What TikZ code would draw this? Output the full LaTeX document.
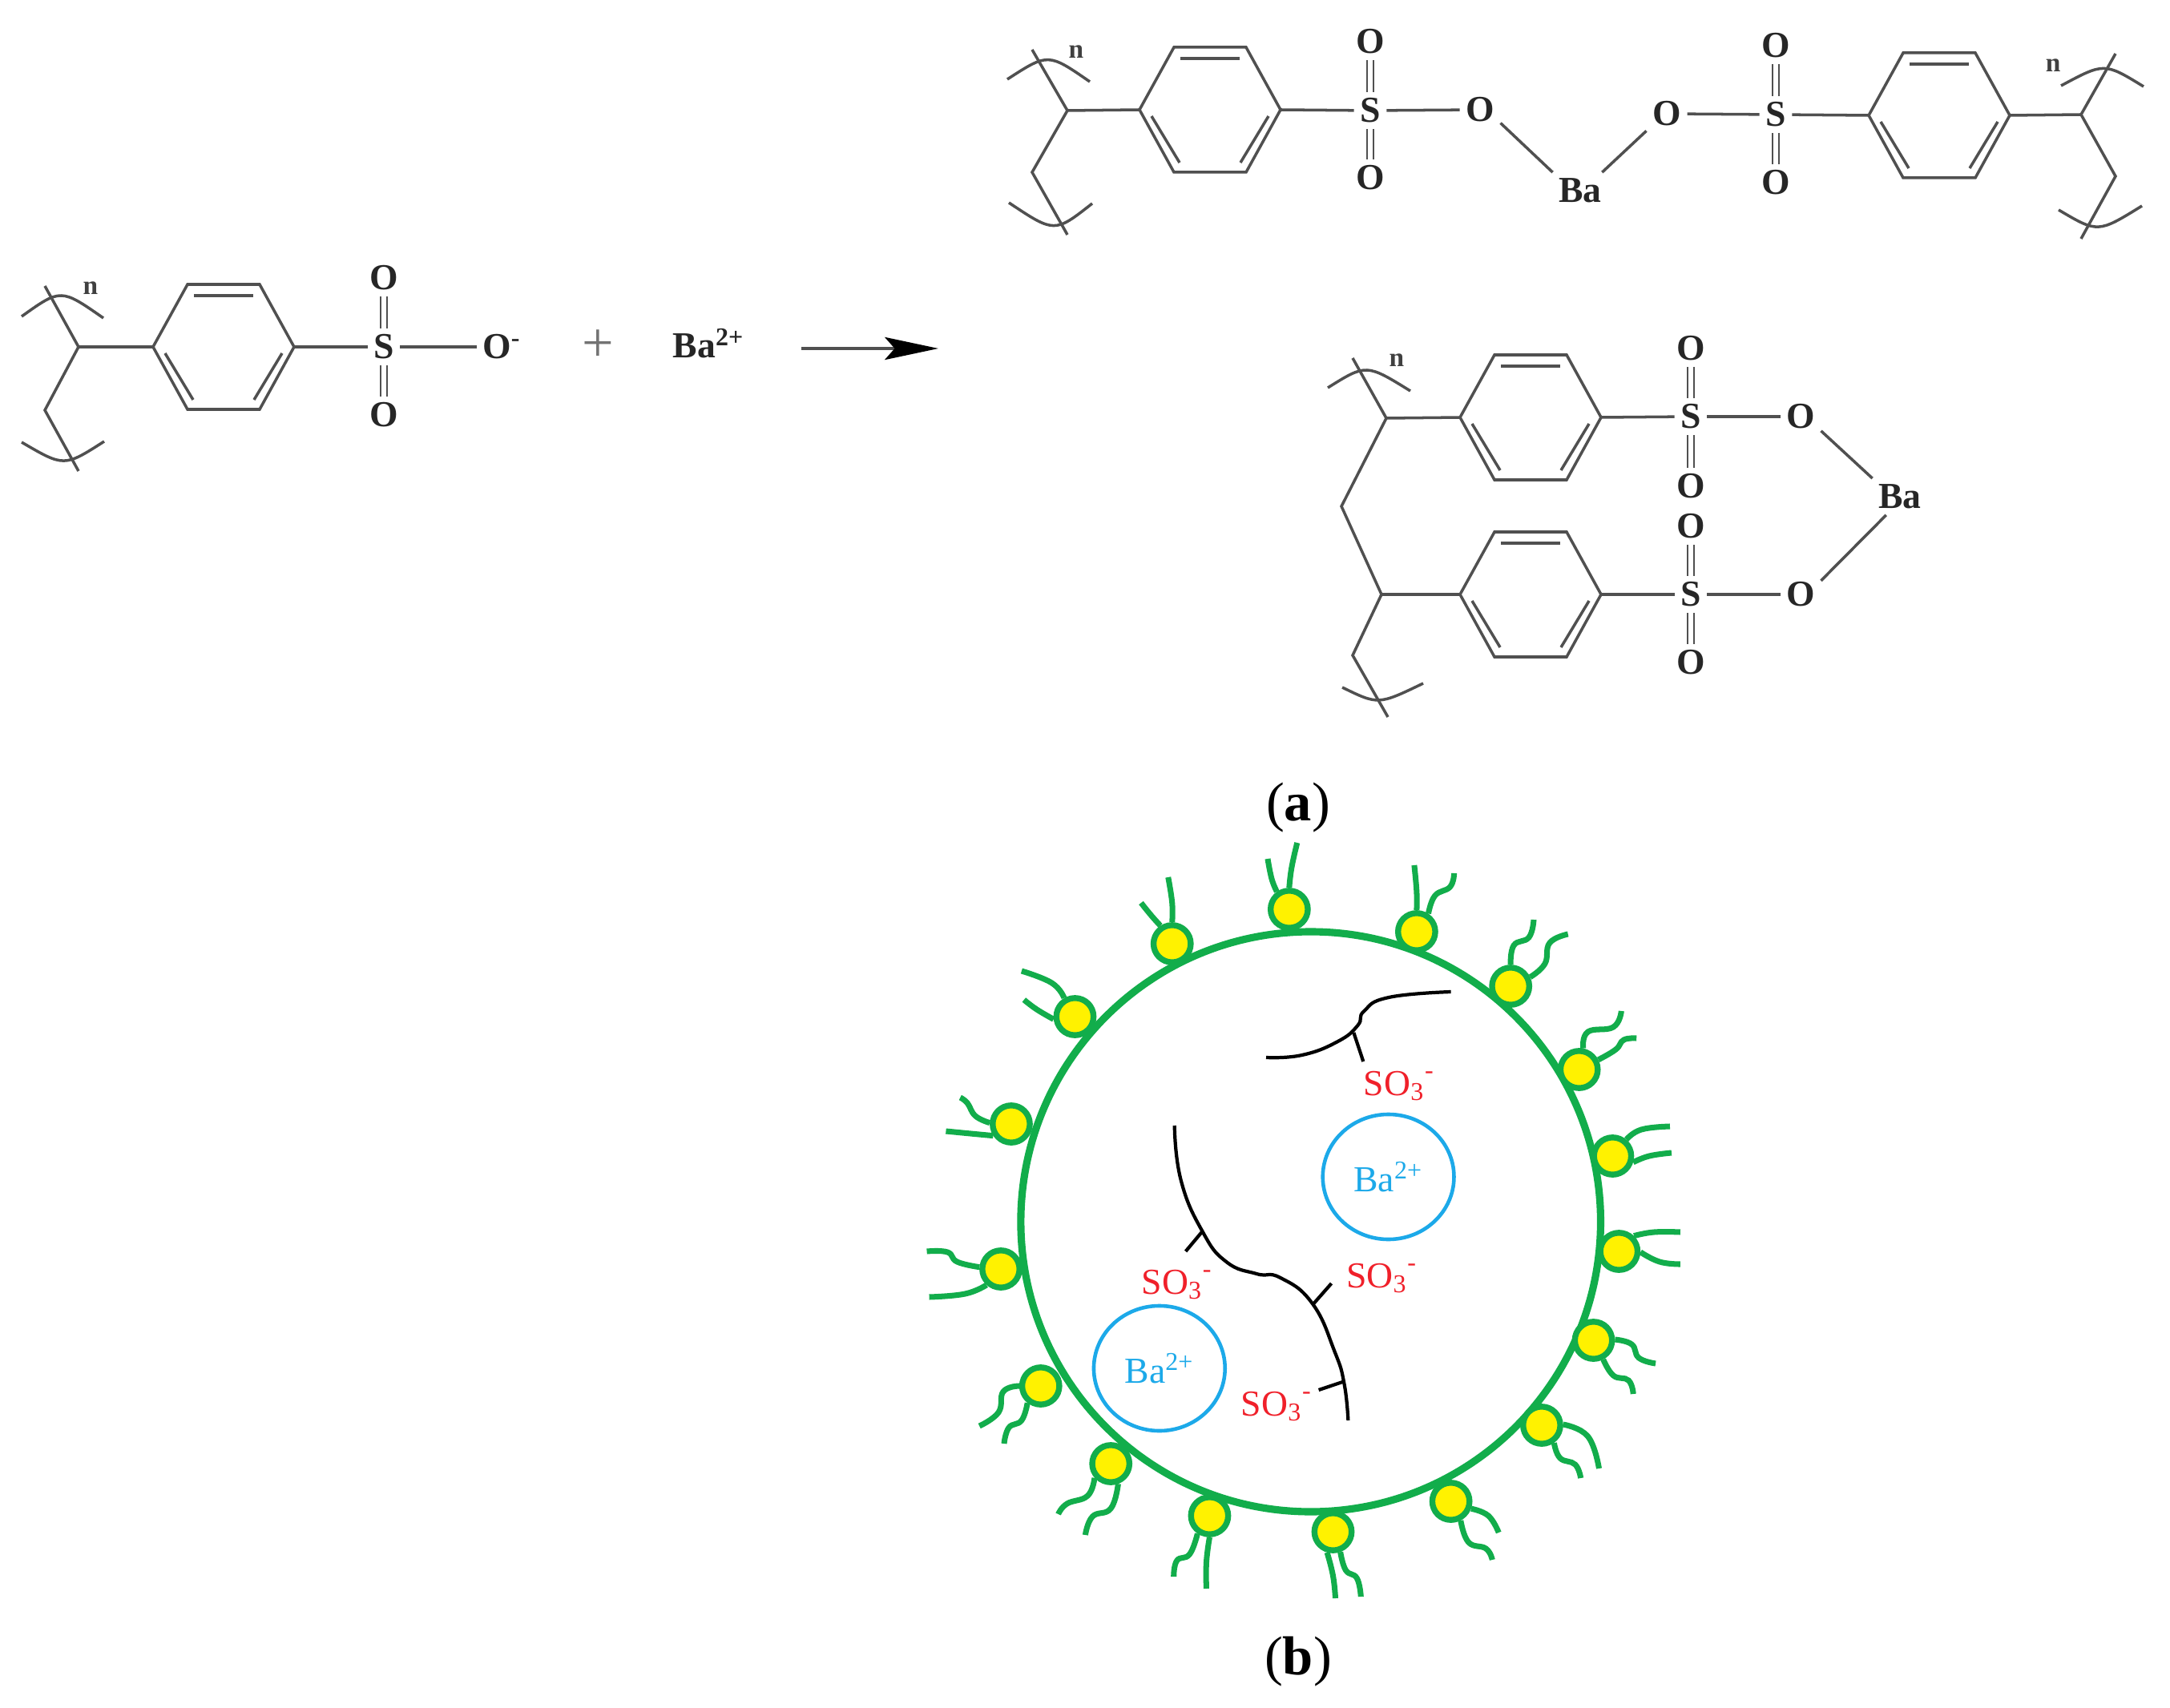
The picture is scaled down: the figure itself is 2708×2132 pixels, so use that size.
\documentclass[tikz,border=0pt]{standalone}
\usepackage{fontspec}
\setmainfont{Liberation Serif}
\usetikzlibrary{arrows.meta,shapes.geometric}
\definecolor{bondgray}{HTML}{505050}
\definecolor{shellgreen}{HTML}{12AD4B}
\definecolor{ionblue}{HTML}{1CA9E9}
\definecolor{sulfored}{HTML}{F0202A}
\tikzset{
  bond/.style={draw=bondgray, line width=1pt},
  dbl/.style={draw=bondgray, line width=.75pt, double=white, double distance=1.5pt},
  atom/.style={inner sep=2pt, text=black!85, font=\fontsize{13}{14}\selectfont\bfseries},
  unitn/.style={inner sep=0pt, text=black!75, font=\fontsize{9.5}{10}\selectfont\bfseries},
  shell/.style={draw=shellgreen, line width=2.6pt},
  tail/.style={draw=shellgreen, line width=2pt, smooth, tension=.75},
  head/.style={circle, draw=shellgreen, fill=yellow, line width=2.1pt, minimum size=13.2pt, inner sep=0pt},
  chain/.style={draw=black, line width=1.2pt},
  ion/.style={ellipse, draw=ionblue, line width=1.3pt, inner sep=0pt, minimum width=46.6pt, minimum height=44.4pt,
    text=ionblue, font=\fontsize{13}{14}\selectfont},
  sulfo/.style={anchor=base west, inner sep=0pt, text=sulfored, font=\fontsize{13}{14}\selectfont},
  panel/.style={inner sep=0pt, font=\fontsize{19.5}{20}\selectfont}
}
\newcommand{\phring}[3]{
  \coordinate (#1l) at (#2-88,#3);
  \coordinate (#1r) at (#2+88,#3);
  \coordinate (#1tl) at (#2-45,#3-78);
  \coordinate (#1tr) at (#2+45,#3-78);
  \coordinate (#1bl) at (#2-45,#3+78);
  \coordinate (#1br) at (#2+45,#3+78);
  \draw[bond] (#1l) -- (#1tl) -- (#1tr) -- (#1r) -- (#1br) -- (#1bl) -- cycle;
  \draw[bond] (#2-37,#3-64) -- (#2+37,#3-64);
  \draw[bond] (#2-73,#3+8) -- (#2-38,#3+66);
  \draw[bond] (#2+73,#3+8) -- (#2+38,#3+66);
}
\newcommand{\sothree}{SO\textsubscript{3}\raisebox{1.5pt}{\textsuperscript{-}}}
\begin{document}
\begin{tikzpicture}[x=.1mm,y=-.1mm]
\useasboundingbox (0,0) rectangle (2708,2132);
\fill[white] (0,0) rectangle (2708,2132);

\begin{scope}[xshift=-.2mm]
% monomer + ion
\coordinate (mt) at (58,357);
\coordinate (mc) at (100,433);
\coordinate (mm) at (58,512);
\coordinate (mb) at (100,588);
\draw[bond] (mt) -- (mc) -- (mm) -- (mb);
\draw[bond] (29,395) .. controls (78,360) .. (131,397);
\draw[bond] (29,552) .. controls (82,583) .. (132,551);
\node[unitn] (mn) at (115,360) {n};
\phring{mr}{281}{433}
\node[atom] (mS) at (481,433) {S};
\node[atom] (mOa) at (481,347) {O};
\node[atom] (mOb) at (481,518) {O};
\node[atom] (mOc) at (622,433) {O\rlap{\textsuperscript{-}}};
\draw[bond] (mc) -- (mrl);
\draw[bond] (mrr) -- (mS);
\draw[dbl] (mS) -- (mOa);
\draw[dbl] (mS) -- (mOb);
\draw[bond] (mS) -- (mOc);
\node[inner sep=0pt, text=black!55, font=\fontsize{20}{20}\selectfont] (plus) at (748,432) {+};
\node[atom, anchor=base west, inner sep=0pt] (mBa) at (841,447) {Ba\textsuperscript{2+}};
\coordinate (ra) at (1002,435);
\coordinate (rb) at (1173,435);
\draw[draw=bondgray, line width=1.2pt, -{Stealth[length=19pt,width=8pt,inset=3.5pt,black]}] (ra) -- (rb);

% bridged chains
\coordinate (pt) at (1290,62);
\coordinate (pc) at (1334,138);
\coordinate (pm) at (1290,215);
\coordinate (pb) at (1334,293);
\draw[bond] (pt) -- (pc) -- (pm) -- (pb);
\draw[bond] (1259,99) .. controls (1310,66) .. (1362,102);
\draw[bond] (1261,253) .. controls (1318,291) .. (1365,254);
\node[unitn] (pn) at (1345,65) {n};
\phring{pr}{1512}{137}
\node[atom] (pS) at (1712,138) {S};
\node[atom] (pOa) at (1712,52) {O};
\node[atom] (pOb) at (1712,222) {O};
\node[atom] (pOc) at (1849,137) {O};
\node[atom] (pBa) at (1974,238) {Ba};
\node[atom] (qOc) at (2082,142) {O};
\node[atom] (qS) at (2218,143) {S};
\node[atom] (qOa) at (2218,57) {O};
\node[atom] (qOb) at (2218,228) {O};
\draw[bond] (pc) -- (prl);
\draw[bond] (prr) -- (pS);
\draw[dbl] (pS) -- (pOa);
\draw[dbl] (pS) -- (pOb);
\draw[bond] (pS) -- (pOc);
\draw[bond] (pOc.-33) -- (pBa.north west);
\draw[bond] (pBa.40) -- (qOc.220);
\draw[bond] (qOc) -- (qS);
\draw[dbl] (qS) -- (qOa);
\draw[dbl] (qS) -- (qOb);
\phring{qr}{2422}{144}
\draw[bond] (qS) -- (qrl);
\coordinate (qt) at (2642,67);
\coordinate (qc) at (2599,143);
\coordinate (qm) at (2642,220);
\coordinate (qb) at (2599,298);
\draw[bond] (qt) -- (qc) -- (qm) -- (qb);
\draw[bond] (qrr) -- (qc);
\draw[bond] (2574,107) .. controls (2628,78) .. (2677,108);
\draw[bond] (2571,262) .. controls (2620,291) .. (2675,257);
\node[unitn] (qn) at (2564,82) {n};

% chelate
\coordinate (ct) at (1690,447);
\coordinate (cc) at (1732,522);
\coordinate (cm) at (1676,632);
\coordinate (cd) at (1726,742);
\coordinate (ce) at (1690,818);
\coordinate (cb) at (1734,895);
\draw[bond] (ct) -- (cc) -- (cm) -- (cd) -- (ce) -- (cb);
\draw[bond] (1659,484) .. controls (1707,454) .. (1762,488);
\draw[bond] (1677,858) .. controls (1722,880) .. (1778,853);
\node[unitn] (cn) at (1745,450) {n};
\phring{cr}{1912}{521}
\phring{dr}{1912}{742}
\node[atom] (cS) at (2112,520) {S};
\node[atom] (cOa) at (2112,435) {O};
\node[atom] (cOb) at (2112,607) {O};
\node[atom] (cOc) at (2249,520) {O};
\node[atom] (dS) at (2112,742) {S};
\node[atom] (dOa) at (2112,657) {O};
\node[atom] (dOb) at (2112,827) {O};
\node[atom] (dOc) at (2249,742) {O};
\node[atom] (cBa) at (2373,620) {Ba};
\draw[bond] (cc) -- (crl);
\draw[bond] (crr) -- (cS);
\draw[dbl] (cS) -- (cOa);
\draw[dbl] (cS) -- (cOb);
\draw[bond] (cS) -- (cOc);
\draw[bond] (cd) -- (drl);
\draw[bond] (drr) -- (dS);
\draw[dbl] (dS) -- (dOa);
\draw[dbl] (dS) -- (dOb);
\draw[bond] (dS) -- (dOc);
\draw[bond] (cOc.-35) -- (cBa.north west);
\draw[bond] (cBa.233) -- (dOc.34);
\end{scope}

\node[panel] (pa) at (1620,1008) {(\textbf{a})};

% micelle
\begin{scope}[x=.0994mm,xshift=.76mm]
\draw[shell] (1638,1525) ellipse [x radius=364, y radius=362];
\foreach \name/\px/\py in {A/1611/1135,B/1464/1178,C/1771/1163,D/1889/1231,E/1342/1269,F/1975/1335,
    G/1262/1403,H/2017/1443,I/2025/1562,J/1249/1584,K/1993/1673,L/1299/1730,M/1928/1779,N/1387/1827,
    O/1814/1874,P/1511/1892,Q/1666/1912}
  \node[head] (h\name) at (\px,\py) {};
\draw[tail] plot coordinates {(hA.125) (1589,1097) (1584,1072)};
\draw[tail] plot coordinates {(hA.90) (1614,1083) (1621,1052)};
\draw[tail] plot coordinates {(hB.90) (1464,1127) (1459,1095)};
\draw[tail] plot coordinates {(hB.123) (1438,1143) (1425,1127)};
\draw[tail] plot coordinates {(hC.90) (1771,1113) (1768,1080)};
\draw[tail] plot coordinates {(hC.57) (1794,1118) (1813,1107) (1818,1090)};
\draw[tail] plot coordinates {(hD.90) (1893,1180) (1912,1170) (1918,1148)};
\draw[tail] plot coordinates {(hD.25) (1932,1203) (1938,1177) (1961,1166)};
\draw[tail] plot coordinates {(hE.120) (1313,1227) (1275,1212)};
\draw[tail] plot coordinates {(hE.187) (1294,1260) (1278,1248)};
\draw[tail] plot coordinates {(hF.79) (1986,1288) (2018,1282) (2028,1262)};
\draw[tail] plot coordinates {(hF.27) (2021,1310) (2031,1298) (2047,1296)};
\draw[tail] plot coordinates {(hG.177) (1217,1393) (1207,1377) (1198,1370)};
\draw[tail] plot coordinates {(hG.213) (1211,1415) (1180,1412)};
\draw[tail] plot coordinates {(hH.50) (2053,1410) (2089,1406)};
\draw[tail] plot coordinates {(hH.343) (2063,1443) (2091,1439)};
\draw[tail] plot coordinates {(hI.46) (2069,1538) (2102,1538)};
\draw[tail] plot coordinates {(hI.358) (2076,1575) (2102,1578)};
\draw[tail] plot coordinates {(hJ.175) (1194,1575) (1182,1563) (1156,1562)};
\draw[tail] plot coordinates {(hJ.228) (1204,1615) (1159,1619)};
\draw[tail] plot coordinates {(hK.2) (2041,1678) (2050,1695) (2071,1702)};
\draw[tail] plot coordinates {(hK.297) (2018,1717) (2037,1723) (2043,1740)};
\draw[tail] plot coordinates {(hL.180) (1252,1737) (1246,1763) (1222,1780)};
\draw[tail] plot coordinates {(hL.232) (1275,1773) (1259,1782) (1253,1802)};
\draw[tail] plot coordinates {(hM.2) (1986,1793) (2000,1833)};
\draw[tail] plot coordinates {(hM.305) (1951,1820) (1970,1828) (1977,1845)};
\draw[tail] plot coordinates {(hN.221) (1358,1867) (1332,1877) (1321,1890)};
\draw[tail] plot coordinates {(hN.290) (1387,1883) (1364,1893) (1355,1916)};
\draw[tail] plot coordinates {(hO.340) (1861,1892) (1874,1913)};
\draw[tail] plot coordinates {(hO.297) (1836,1925) (1858,1933) (1866,1947)};
\draw[tail] plot coordinates {(hP.236) (1486,1940) (1470,1948) (1466,1968)};
\draw[tail] plot coordinates {(hP.270) (1507,1950) (1507,1983)};
\draw[tail] plot coordinates {(hQ.254) (1666,1967) (1669,1995)};
\draw[tail] plot coordinates {(hQ.290) (1682,1960) (1696,1970) (1701,1993)};

\node[ion] (ionA) at (1735.5,1469) {Ba\textsuperscript{2+}};
\node[ion] (ionB) at (1448,1708) {Ba\textsuperscript{2+}};

\draw[chain] plot[smooth,tension=.8] coordinates {(1582,1320) (1627,1317) (1672,1300) (1697,1280) (1705,1262) (1736,1245) (1814,1238)};
\node[sulfo] (soA) at (1704,1367) {\sothree};
\coordinate (tickA) at (1692,1289);
\draw[chain] (tickA) -- (1704,1325);

\draw[chain] plot[smooth,tension=.8] coordinates {(1467,1405) (1475,1473) (1502,1537) (1532,1575) (1570,1590) (1600,1595) (1640,1627) (1668,1687) (1680,1727) (1685,1773)};
\coordinate (tickB) at (1502,1537);
\coordinate (tickC) at (1641,1628);
\coordinate (tickD) at (1678,1725);
\draw[chain] (tickB) -- (1481,1562);
\draw[chain] (tickC) -- (1664,1602);
\draw[chain] (tickD) -- (1648,1735);
\node[sulfo] (soB) at (1425,1615) {\sothree};
\node[sulfo] (soC) at (1682,1607) {\sothree};
\node[sulfo] (soD) at (1550,1767) {\sothree};
\end{scope}

\node[panel] (pb) at (1620,2074) {(\textbf{b})};
\end{tikzpicture}
\end{document}
